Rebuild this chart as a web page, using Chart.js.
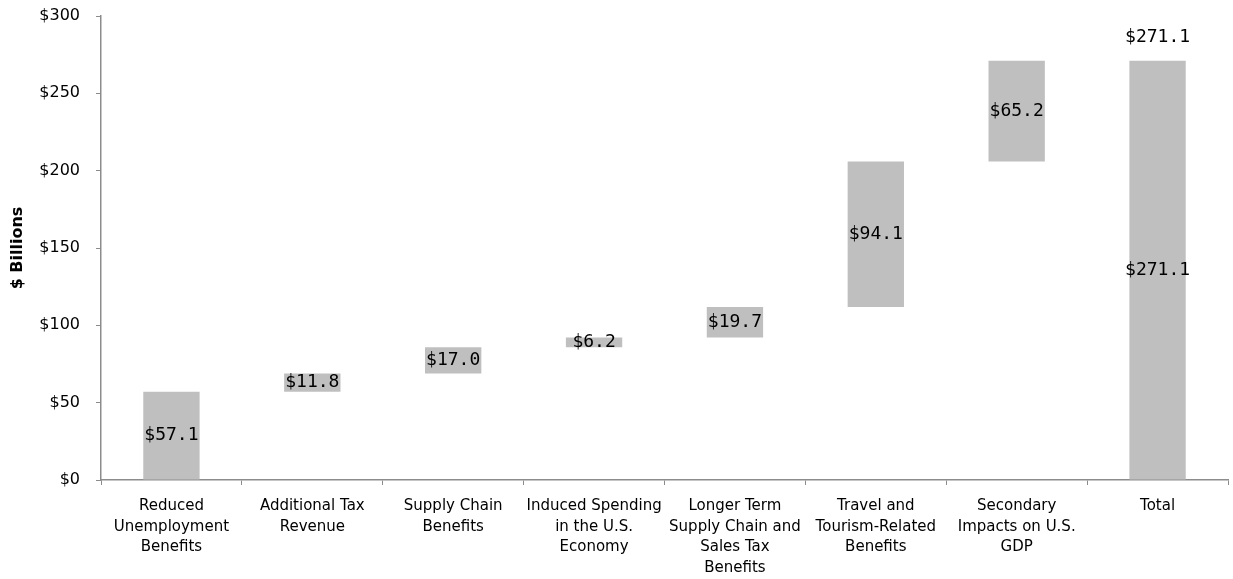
<!DOCTYPE html>
<html>
<head>
<meta charset="utf-8">
<script src="https://cdn.jsdelivr.net/npm/chart.js@4/dist/chart.umd.min.js"></script>
<style>
  html, body { margin: 0; padding: 0; background: #fff; }
  #wrap { width: 1233px; height: 579px; }
</style>
</head>
<body>
<div id="wrap"><canvas id="waterfall"></canvas></div>
<script>
var categories = [
  ["Reduced", "Unemployment", "Benefits"],
  ["Additional Tax", "Revenue"],
  ["Supply Chain", "Benefits"],
  ["Induced Spending", "in the U.S.", "Economy"],
  ["Longer Term", "Supply Chain and", "Sales Tax", "Benefits"],
  ["Travel and", "Tourism-Related", "Benefits"],
  ["Secondary", "Impacts on U.S.", "GDP"],
  ["Total"]
];
var increments = [57.1, 11.8, 17.0, 6.2, 19.7, 94.1, 65.2];
var total = 271.1;
var yTicks = [0, 50, 100, 150, 200, 250, 300];

// floating bars: each step starts where the previous one ended
var ranges = [];
var running = 0;
increments.forEach(function (v) {
  ranges.push([running, running + v]);
  running += v;
});
ranges.push([0, total]);
var shown = increments.concat([total]);

var valueLabels = {
  id: "valueLabels",
  afterDatasetsDraw: function (chart) {
    var ctx = chart.ctx;
    var meta = chart.getDatasetMeta(0);
    ctx.save();
    ctx.font = "18px 'DejaVu Sans Mono'";
    ctx.fillStyle = "#000";
    ctx.textAlign = "center";
    ctx.textBaseline = "middle";
    meta.data.forEach(function (bar, i) {
      var txt = "$" + shown[i].toFixed(1);
      ctx.fillText(txt, bar.x, (bar.y + bar.base) / 2);
      if (i === shown.length - 1) {
        ctx.fillText(txt, bar.x, bar.y - 23);
      }
    });
    ctx.restore();
  }
};

Chart.defaults.font.family = "'DejaVu Sans'";

var axisGrey = "#8c8c8c";
var ctx = document.getElementById("waterfall").getContext("2d");
var chart = new Chart(ctx, {
  type: "bar",
  data: {
    labels: categories,
    datasets: [{
      data: ranges,
      backgroundColor: "#bfbfbf",
      borderWidth: 0,
      barPercentage: 0.4,
      categoryPercentage: 1.0
    }]
  },
  options: {
    responsive: true,
    maintainAspectRatio: false,
    animation: false,
    layout: { padding: { top: 16, right: 5, bottom: 0, left: 0 } },
    plugins: {
      legend: { display: false },
      tooltip: { enabled: false }
    },
    scales: {
      x: {
        offset: true,
        grid: {
          offset: true,
          drawOnChartArea: false,
          tickLength: 5,
          tickColor: axisGrey
        },
        border: { color: axisGrey, width: 1.5 },
        ticks: {
          color: "#000",
          font: { size: 15, lineHeight: 1.37 },
          padding: 11,
          maxRotation: 0,
          autoSkip: false
        },
        afterFit: function (scale) {
          scale.height = 99;
          scale.paddingLeft = 0;
          scale.paddingRight = 0;
        }
      },
      y: {
        min: 0,
        max: 300,
        afterBuildTicks: function (scale) {
          scale.ticks = yTicks.map(function (v) { return { value: v }; });
        },
        grid: {
          drawOnChartArea: false,
          tickLength: 5,
          tickColor: axisGrey
        },
        border: { color: axisGrey, width: 1.5 },
        ticks: {
          color: "#000",
          font: { size: 16 },
          padding: 16,
          callback: function (v) { return "$" + v; }
        },
        title: {
          display: true,
          text: "$ Billions",
          color: "#000",
          font: { size: 16, weight: "bold" },
          padding: { top: 8, bottom: 0 }
        },
        afterFit: function (scale) {
          scale.width = 101;
          scale.paddingTop = 0;
          scale.paddingBottom = 0;
        }
      }
    }
  },
  plugins: [valueLabels]
});
</script>
</body>
</html>
